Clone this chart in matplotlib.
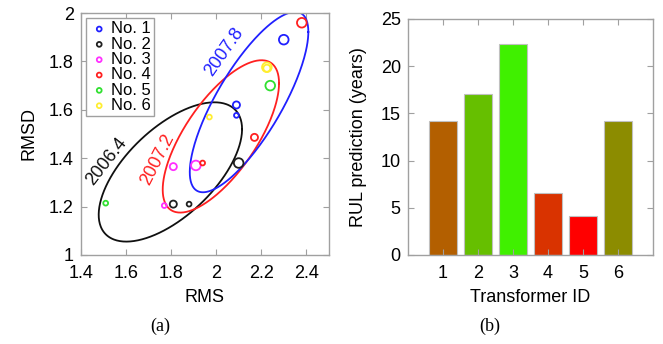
import matplotlib
matplotlib.use("Agg")
import matplotlib.pyplot as plt
import numpy as np

# ---------------- data ----------------
# (a) RMS / RMSD for each transformer at three survey dates
# sizes: small = 2006.4, medium = 2007.2, large = 2007.8
transformer_names = ['No. 1', 'No. 2', 'No. 3', 'No. 4', 'No. 5', 'No. 6']
transformer_colors = ['#2020ff', '#202020', '#ff30ff', '#ff2020', '#30e030', '#ffee30']
rms = [
    [2.09, 2.09, 2.30],
    [1.88, 1.81, 2.10],
    [1.77, 1.81, 1.91],
    [1.94, 2.17, 2.38],
    [1.51, 2.24],
    [1.97, 2.225, 2.225],
]
rmsd = [
    [1.577, 1.62, 1.89],
    [1.21, 1.21, 1.38],
    [1.204, 1.365, 1.37],
    [1.38, 1.486, 1.96],
    [1.214, 1.70],
    [1.57, 1.772, 1.776],
]
point_sizes = [
    [12, 26, 48],
    [12, 26, 48],
    [12, 26, 48],
    [12, 26, 48],
    [12, 48],
    [12, 26, 48],
]

# cluster ellipses per date: centre, x half-extent, y half-extent, y offset at rightmost point
dates = ['2006.4', '2007.2', '2007.8']
date_colors = ['#101010', '#ff2020', '#2020ff']
ell_cx = [1.797, 2.021, 2.146]
ell_cy = [1.343, 1.49, 1.632]
ell_ax = [0.318, 0.258, 0.263]
ell_ay = [0.288, 0.315, 0.373]
ell_c = [0.177, 0.22, 0.29]
label_x = [1.513, 1.741, 2.034]
label_y = [1.386, 1.393, 1.84]
label_rot = [52, 63, 55]

# (b) remaining useful life
transformer_ids = [1, 2, 3, 4, 5, 6]
rul_years = [14.2, 17.05, 22.35, 6.6, 4.1, 14.2]
bar_colors = ['#b35f00', '#66bf00', '#40f000', '#d93300', '#ff0000', '#8c8c00']

# ---------------- style ----------------
plt.rcParams['font.family'] = ['Liberation Sans', 'DejaVu Sans']
plt.rcParams['font.size'] = 13
frame_color = '#a0a0a0'

fig = plt.figure(figsize=(6.63, 3.44), dpi=100)
ax1 = fig.add_axes([0.122, 0.259, 0.374, 0.703])
ax2 = fig.add_axes([0.615, 0.259, 0.370, 0.686])

for ax in (ax1, ax2):
    for sp in ax.spines.values():
        sp.set_color(frame_color)
        sp.set_linewidth(1.0)
    ax.tick_params(direction='in', top=True, right=True, length=4,
                   color=frame_color, labelsize=13, pad=5)
    ax.tick_params(axis='x', pad=7)

# ---------------- (a) scatter ----------------
t = np.linspace(0, 2 * np.pi, 300)
for i in range(3):
    d = np.sqrt(ell_ay[i] ** 2 - ell_c[i] ** 2)
    ex = ell_cx[i] + ell_ax[i] * np.cos(t)
    ey = ell_cy[i] + ell_c[i] * np.cos(t) + d * np.sin(t)
    ax1.plot(ex, ey, color=date_colors[i], lw=1.3)
    ax1.text(label_x[i], label_y[i], dates[i], color=date_colors[i], fontsize=13,
             rotation=label_rot[i], ha='center', va='center')

for k in range(6):
    ax1.scatter(rms[k], rmsd[k], s=point_sizes[k], facecolors='none',
                edgecolors=transformer_colors[k], linewidths=1.3, zorder=3)
    ax1.scatter([], [], s=12, facecolors='none', edgecolors=transformer_colors[k],
                linewidths=1.3, label=transformer_names[k])

ax1.set_xlim(1.4, 2.5)
ax1.set_ylim(1, 2)
ax1.set_xticks([1.4, 1.6, 1.8, 2, 2.2, 2.4])
ax1.set_xticklabels(['1.4', '1.6', '1.8', '2', '2.2', '2.4'])
ax1.set_yticks([1, 1.2, 1.4, 1.6, 1.8, 2])
ax1.set_yticklabels(['1', '1.2', '1.4', '1.6', '1.8', '2'])
ax1.set_xlabel('RMS', fontsize=13, labelpad=5)
ax1.set_ylabel('RMSD', fontsize=13, labelpad=8)
leg = ax1.legend(loc='upper left', fontsize=12, handletextpad=0.1, borderpad=0.2,
                 labelspacing=0.02, handlelength=1.2, borderaxespad=0.3,
                 fancybox=False, framealpha=1)
leg.get_frame().set_edgecolor(frame_color)

# ---------------- (b) bars ----------------
ax2.bar(transformer_ids, rul_years, width=0.8, color=bar_colors,
        edgecolor='#c0c0c0', linewidth=0.8)
ax2.set_xlim(0, 7)
ax2.set_ylim(0, 25)
ax2.set_xticks(transformer_ids)
ax2.set_yticks([0, 5, 10, 15, 20, 25])
ax2.set_xlabel('Transformer ID', fontsize=13, labelpad=5)
ax2.set_ylabel('RUL prediction (years)', fontsize=13, labelpad=10)

# captions
fig.text(160 / 663, 1 - 326 / 344, '(a)', fontsize=13, family='Liberation Serif',
         ha='center', va='center')
fig.text(490 / 663, 1 - 326 / 344, '(b)', fontsize=13, family='Liberation Serif',
         ha='center', va='center')

fig.savefig('out.png', dpi=100)
